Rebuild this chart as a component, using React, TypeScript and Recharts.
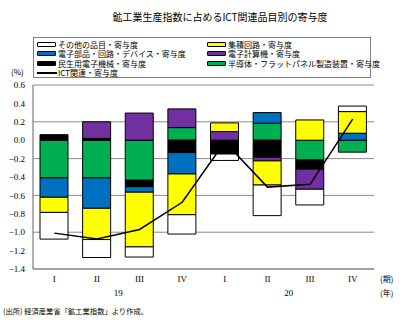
import { ComposedChart, Bar, Line, XAxis, YAxis, CartesianGrid } from "recharts"

const quarters = ["I", "II", "III", "IV", "I", "II", "III", "IV"]
const years = ["19", "19", "19", "19", "20", "20", "20", "20"]

// contributions by item (percentage points)
const semiconductor = [-0.41, -0.41, -0.435, 0.137, 0, 0.185, -0.215, -0.13]
const consumer = [0.06, 0.02, -0.07, -0.135, -0.15, -0.185, -0.1, 0]
const parts = [-0.21, -0.33, -0.06, -0.232, 0, 0.115, 0, 0.076]
const computer = [0, 0.18, 0.295, 0.203, 0.094, -0.04, -0.218, 0]
const ic = [-0.165, -0.34, -0.595, -0.443, 0.094, -0.262, 0.22, 0.235]
const others = [-0.29, -0.195, -0.11, -0.21, -0.07, -0.333, -0.171, 0.06]
const ictTotal = [-1.01, -1.075, -0.97, -0.675, -0.02, -0.51, -0.48, 0.23]

const yTicks = [0.6, 0.4, 0.2, 0, -0.2, -0.4, -0.6, -0.8, -1.0, -1.2, -1.4]

// stacking order, from the zero line outward
const series = [
  { key: "semi", name: "半導体・フラットパネル製造装置・寄与度", color: "#00B050", values: semiconductor },
  { key: "consumer", name: "民生用電子機械・寄与度", color: "#000000", values: consumer },
  { key: "parts", name: "電子部品・回路・デバイス・寄与度", color: "#0070C0", values: parts },
  { key: "computer", name: "電子計算機・寄与度", color: "#7030A0", values: computer },
  { key: "ic", name: "集積回路・寄与度", color: "#FFFF00", values: ic },
  { key: "others", name: "その他の品目・寄与度", color: "#FFFFFF", values: others },
]

const legendOrder = ["others", "ic", "parts", "computer", "consumer", "semi", "ict"]

const data = quarters.map((q, i) => {
  const row: Record<string, string | number> = { q, year: years[i], ict: ictTotal[i] }
  series.forEach((s) => {
    row[s.key] = s.values[i]
  })
  return row
})

const W = 403
const H = 322
const M = { top: 85, right: 29, bottom: 0, left: 0 }
const Y_W = 33
const halfBand = (W - Y_W - M.right) / quarters.length / 2

const serif = "'Liberation Serif', 'Noto Sans CJK JP', serif"
const cjk = "'Noto Sans CJK JP', 'Liberation Serif', sans-serif"

const fmt = (v: number) => (v < 0 ? "\u2212" + Math.abs(v).toFixed(1) : v.toFixed(1))

const QuarterTick = (props: any) => {
  const { x, y, payload, index } = props
  return (
    <g>
      <text x={x} y={y + 13} textAnchor="middle" fontSize={9} fontFamily={serif} fill="#000">
        {payload.value}
      </text>
      {index % 4 === 1 && (
        <text x={x + halfBand} y={y + 27} textAnchor="middle" fontSize={9} fontFamily={serif} fill="#000">
          {years[index]}
        </text>
      )}
    </g>
  )
}

const LegendBox = () => {
  const items = legendOrder.map((k) => {
    if (k === "ict") return { key: k, name: "ICT関連・寄与度", color: "#000", line: true }
    const s = series.find((x) => x.key === k)!
    return { key: k, name: s.name, color: s.color, line: false }
  })
  return (
    <div
      style={{
        position: "absolute",
        left: 33,
        top: 37,
        width: 336,
        height: 39,
        border: "1px solid #808080",
        background: "#fff",
        fontFamily: cjk,
        fontSize: 8,
      }}
    >
      {items.map((it, i) => {
        const col = i === 6 ? 0 : i % 2
        const row = Math.floor(i / 2)
        return (
          <div
            key={it.key}
            style={{
              position: "absolute",
              left: col === 0 ? 3 : 173,
              top: 1.5 + row * 9.5,
              height: 9,
              display: "flex",
              alignItems: "center",
              whiteSpace: "nowrap",
            }}
          >
            {it.line ? (
              <span style={{ display: "inline-block", width: 20, height: 2, background: "#000", marginRight: 1 }} />
            ) : (
              <span
                style={{
                  display: "inline-block",
                  width: 17,
                  height: 3,
                  background: it.color,
                  border: "1px solid #000",
                  borderRadius: 1,
                  marginRight: 2,
                }}
              />
            )}
            <span>{it.name}</span>
          </div>
        )
      })}
    </div>
  )
}

export default function App() {
  return (
    <div style={{ position: "absolute", left: 0, top: 0, width: W, height: H, background: "#fff" }}>
      <ComposedChart width={W} height={H} data={data} margin={M} stackOffset="sign">
        <CartesianGrid vertical={false} stroke="#8c8c8c" />
        <XAxis
          dataKey="q"
          height={53}
          interval={0}
          tickLine={false}
          tickSize={0}
          tickMargin={0}
          axisLine={{ stroke: "#808080" }}
          tick={<QuarterTick />}
        />
        <YAxis
          domain={[-1.4, 0.6]}
          ticks={yTicks}
          width={Y_W}
          tickLine={false}
          tickSize={0}
          tickMargin={8}
          tickFormatter={fmt}
          axisLine={{ stroke: "#606060" }}
          tick={{ fontSize: 9, fontFamily: serif, fill: "#000" }}
        />
        <YAxis
          yAxisId="frame"
          orientation="right"
          domain={[-1.4, 0.6]}
          width={0}
          tick={false}
          tickLine={false}
          axisLine={{ stroke: "#9a9a9a" }}
        />
        {series.map((s) => (
          <Bar
            key={s.key}
            dataKey={s.key}
            stackId="a"
            fill={s.color}
            stroke="#000"
            strokeWidth={1}
            barSize={28}
            isAnimationActive={false}
          />
        ))}
        <Line
          dataKey="ict"
          type="linear"
          stroke="#000"
          strokeWidth={1.5}
          dot={false}
          isAnimationActive={false}
        />
      </ComposedChart>
      <div
        style={{
          position: "absolute",
          left: 0,
          width: 440,
          top: 10,
          textAlign: "center",
          fontFamily: cjk,
          fontSize: 10,
          lineHeight: "14px",
        }}
      >
        鉱工業生産指数に占めるICT関連品目別の寄与度
      </div>
      <LegendBox />
      <div style={{ position: "absolute", left: 11, top: 67, fontFamily: cjk, fontSize: 8, lineHeight: "10px" }}>(%)</div>
      <div style={{ position: "absolute", left: 380, top: 274, fontFamily: cjk, fontSize: 8, lineHeight: "10px" }}>(期)</div>
      <div style={{ position: "absolute", left: 380, top: 288, fontFamily: cjk, fontSize: 8, lineHeight: "10px" }}>(年)</div>
      <div style={{ position: "absolute", left: 3, top: 306, fontFamily: cjk, fontSize: 7.3, lineHeight: "10px" }}>
        (出所) 経済産業省「鉱工業指数」より作成。
      </div>
    </div>
  )
}
